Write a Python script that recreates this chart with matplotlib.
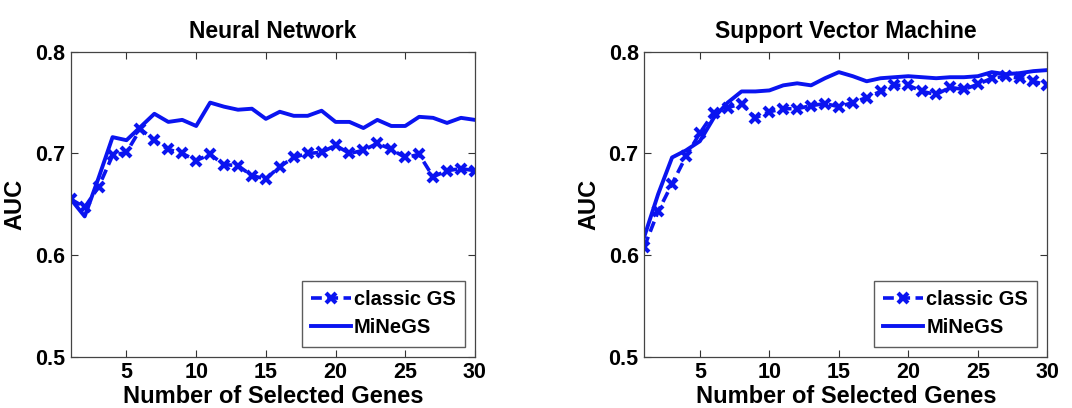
import matplotlib
matplotlib.use("Agg")
import matplotlib.pyplot as plt
import numpy as np

plt.rcParams['font.family'] = ['Liberation Sans', 'DejaVu Sans']
plt.rcParams['font.weight'] = 'bold'

genes = list(range(1, 31))

classic_nn = [0.655, 0.647, 0.667, 0.698, 0.701, 0.724, 0.713, 0.704, 0.700, 0.693,
              0.699, 0.689, 0.688, 0.678, 0.675, 0.687, 0.696, 0.700, 0.701, 0.708,
              0.700, 0.703, 0.710, 0.704, 0.696, 0.699, 0.677, 0.683, 0.685, 0.683]
minegs_nn = [0.655, 0.638, 0.676, 0.716, 0.713, 0.726, 0.739, 0.731, 0.733, 0.727,
             0.750, 0.746, 0.743, 0.744, 0.734, 0.741, 0.737, 0.737, 0.742, 0.731,
             0.731, 0.725, 0.733, 0.727, 0.727, 0.736, 0.735, 0.730, 0.735, 0.733]

classic_svm = [0.608, 0.643, 0.670, 0.697, 0.720, 0.740, 0.745, 0.749, 0.735, 0.741,
               0.744, 0.744, 0.747, 0.749, 0.746, 0.750, 0.755, 0.761, 0.767, 0.767,
               0.761, 0.758, 0.765, 0.763, 0.768, 0.774, 0.776, 0.774, 0.771, 0.767]
minegs_svm = [0.618, 0.660, 0.696, 0.703, 0.712, 0.735, 0.750, 0.761, 0.761, 0.762,
              0.767, 0.769, 0.767, 0.774, 0.780, 0.776, 0.771, 0.774, 0.775, 0.776,
              0.775, 0.774, 0.775, 0.775, 0.776, 0.780, 0.778, 0.779, 0.781, 0.782]

titles = ["Neural Network", "Support Vector Machine"]
series = [(classic_nn, minegs_nn), (classic_svm, minegs_svm)]
xticks = [5, 10, 15, 20, 25, 30]
yticks = [0.5, 0.6, 0.7, 0.8]
ytick_labels = ["0.5", "0.6", "0.7", "0.8"]

blue = "#0a14f0"
fig = plt.figure(figsize=(10.72, 4.08), dpi=100)
positions = [[0.066, 0.126, 0.377, 0.747], [0.601, 0.126, 0.376, 0.747]]

for pos, title, (cl, mi) in zip(positions, titles, series):
    ax = fig.add_axes(pos)
    ax.plot(genes, cl, linestyle='--', color=blue, linewidth=2.6, marker='x',
            markersize=7, markeredgewidth=3, dashes=(3, 1.5), label="classic GS")
    ax.plot(genes, mi, linestyle='-', color=blue, linewidth=2.8, label="MiNeGS")
    ax.set_xlim(1, 30)
    ax.set_ylim(0.5, 0.8)
    ax.set_xticks(xticks)
    ax.set_yticks(yticks)
    ax.set_yticklabels(ytick_labels)
    ax.tick_params(direction='in', top=True, right=True, length=5, width=0.8,
                   labelsize=15.5, pad=4, color='#333333')
    for lab in ax.get_xticklabels() + ax.get_yticklabels():
        lab.set_fontweight('bold')
    for s in ax.spines.values():
        s.set_color('#444444')
        s.set_linewidth(0.9)
    ax.set_title(title, fontsize=16.5, fontweight='bold', pad=10)
    ax.set_xlabel("Number of Selected Genes", fontsize=17, fontweight='bold', labelpad=1)
    ax.set_ylabel("AUC", fontsize=17, fontweight='bold', labelpad=6)
    leg = ax.legend(loc='lower right', fontsize=14.5, frameon=True, fancybox=False,
                    handlelength=2.0, handletextpad=0.15, borderpad=0.45,
                    labelspacing=0.45, borderaxespad=0.5)
    leg.get_frame().set_edgecolor('#333333')
    leg.get_frame().set_linewidth(1.0)
    for t in leg.get_texts():
        t.set_fontweight('bold')

fig.savefig("out.png", dpi=100)
